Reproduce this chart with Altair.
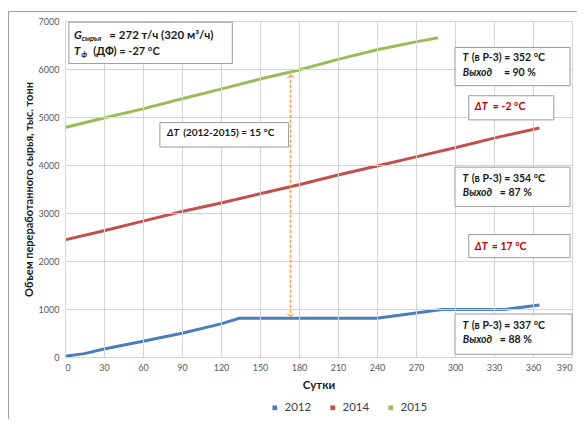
import altair as alt
import pandas as pd

# ---- data ----
days_2012 = [0, 15, 30, 60, 90, 120, 134, 240, 290, 338, 365]
vals_2012 = [15, 70, 165, 330, 495, 690, 805, 805, 990, 990, 1085]
days_2014 = [0, 30, 60, 90, 120, 150, 180, 210, 240, 270, 300, 330, 365]
vals_2014 = [2440, 2630, 2830, 3030, 3210, 3400, 3590, 3790, 3980, 4170, 4360, 4560, 4770]
days_2015 = [0, 30, 60, 90, 120, 150, 180, 210, 240, 270, 287]
vals_2015 = [4780, 4980, 5170, 5380, 5580, 5790, 5980, 6200, 6400, 6565, 6650]

series = ["2012", "2014", "2015"]
colors = ["#4a7ebb", "#c0504d", "#9bbb59"]

x_ticks = list(range(0, 391, 30))
y_ticks = list(range(0, 7001, 1000))

# annotation boxes (data coordinates)
box_x1 = [3, 73, 300, 310.6, 300, 310.6, 300]
box_x2 = [128.7, 172, 388.5, 376, 388.5, 388.5, 390]
box_y1 = [6975, 4883, 6449, 5443, 3955, 2551, 895]
box_y2 = [6113, 4374, 5653, 4940, 3138, 2069, 57]

# arrow between 2015 and 2012 curves
arrow_day = 173.5
arrow_top = 5880
arrow_bottom = 840

FONT = "Lato"
BLACK = "#1a1a1a"
RED = "#c00000"

# text pieces: (x, y, text, color, size)
bold_pieces = [
    (34.1, 6695, "= 272 т/ч (320 м³/ч)", BLACK, 11.5),
    (21.8, 6359, "(ДФ) = -27 °C", BLACK, 11),
    (90.9, 4661, "(2012-2015) = 15 °C", BLACK, 10),
    (312.9, 6219, "(в Р-3) = 352 °C", BLACK, 10.5),
    (337.6, 5925, "= 90 %", BLACK, 10.5),
    (329.1, 5213, "= -2 °C", RED, 10.5),
    (312.9, 3704, "(в Р-3) = 354 °C", BLACK, 10.5),
    (334.5, 3410, "= 87 %", BLACK, 10.5),
    (328.3, 2285, "= 17 °C", RED, 10.5),
    (312.9, 643, "(в Р-3) = 337 °C", BLACK, 10.5),
    (334.5, 350, "= 88 %", BLACK, 10.5),
]
italic_pieces = [
    (6.9, 6695, "G", BLACK, 11.5),
    (6.9, 6359, "T", BLACK, 11.5),
    (78.4, 4661, "ΔT", BLACK, 10),
    (305.8, 6219, "T", BLACK, 10.5),
    (306, 5925, "Выход", BLACK, 10.5),
    (315.2, 5213, "ΔT", RED, 10.5),
    (305.8, 3704, "T", BLACK, 10.5),
    (306, 3410, "Выход", BLACK, 10.5),
    (315.2, 2285, "ΔT", RED, 10.5),
    (305.8, 643, "T", BLACK, 10.5),
    (306, 350, "Выход", BLACK, 10.5),
]
sub_pieces = [
    (12.8, 6617, "сырья"),
    (12.6, 6282, "ф"),
]

# ---- tables ----
rows = []
for name, ds, vs in [("2012", days_2012, vals_2012), ("2014", days_2014, vals_2014), ("2015", days_2015, vals_2015)]:
    for d, v in zip(ds, vs):
        rows.append({"day": d, "val": v, "year": name})
df = pd.DataFrame(rows)

boxes = pd.DataFrame({"x1": box_x1, "x2": box_x2, "y1": box_y1, "y2": box_y2})
bold_df = pd.DataFrame(bold_pieces, columns=["x", "y", "t", "c", "s"])
ital_df = pd.DataFrame(italic_pieces, columns=["x", "y", "t", "c", "s"])
sub_df = pd.DataFrame(sub_pieces, columns=["x", "y", "t"])
arrow_df = pd.DataFrame({"x": [arrow_day], "y1": [arrow_top], "y2": [arrow_bottom]})
xgrid_df = pd.DataFrame({"gx": x_ticks})
ygrid_df = pd.DataFrame({"gy": y_ticks})

W, H = 507, 336
xscale = alt.Scale(domain=[0, 390], nice=False)
yscale = alt.Scale(domain=[0, 7000], nice=False)

x_axis = alt.Axis(values=x_ticks, title="Сутки", grid=False, domain=False, ticks=False,
                  labelOverlap=False, format="d",
                  labelPadding=6, titlePadding=7, titleFontSize=11.5, titleFontWeight="bold",
                  titleColor="#1a1a1a", titleFont=FONT, labelColor="#595959",
                  labelFontSize=9, labelFont=FONT)
y_axis = alt.Axis(values=y_ticks, title="Объем переработанного сырья, тыс. тонн", grid=False,
                  domain=False, ticks=False, labelOverlap=False, format="d",
                  labelPadding=6, titlePadding=4,
                  titleFontSize=11, titleFontWeight="bold", titleColor="#1a1a1a",
                  titleFont=FONT, labelColor="#595959", labelFontSize=9, labelFont=FONT)


def XN(f):
    return alt.X(f, type="quantitative", scale=xscale, axis=x_axis)


def YN(f):
    return alt.Y(f, type="quantitative", scale=yscale, axis=y_axis)


GRID = "#d4d4d4"
xgrid = alt.Chart(xgrid_df).mark_rule(color=GRID, strokeWidth=1, xOffset=0.5).encode(
    x=XN("gx"), y=alt.value(0), y2=alt.value(H))
ygrid = alt.Chart(ygrid_df).mark_rule(color=GRID, strokeWidth=1, yOffset=0.5).encode(
    y=YN("gy"), x=alt.value(0), x2=alt.value(W))

lines = alt.Chart(df).mark_line(strokeWidth=3).encode(
    x=XN("day"), y=YN("val"),
    color=alt.Color("year:N", scale=alt.Scale(domain=series, range=colors),
                    legend=alt.Legend(title=None, orient="none", direction="horizontal",
                                      legendX=204, legendY=381, symbolType="square", symbolSize=5,
                                      symbolStrokeWidth=2.5,
                                      labelFontSize=11.5, labelColor="#404040", labelFont=FONT,
                                      columnPadding=14)),
    detail="year:N",
)

arrow_line = alt.Chart(arrow_df).mark_rule(color="#f79646", strokeWidth=1.5, strokeDash=[3, 2]).encode(
    x=XN("x"), y=YN("y1"), y2="y2:Q")
arrow_up = alt.Chart(arrow_df).mark_point(shape="M-1,1L0,0L1,1", size=40, filled=False,
                                          color="#f79646", strokeWidth=1.5).encode(
    x=XN("x"), y=YN("y1"))
arrow_dn = alt.Chart(arrow_df).mark_point(shape="M-1,-1L0,0L1,-1", size=40, filled=False,
                                          color="#f79646", strokeWidth=1.5).encode(
    x=XN("x"), y=YN("y2"))

box_layer = alt.Chart(boxes).mark_rect(fill="white", stroke="#9a9a9a", strokeWidth=1).encode(
    x=XN("x1"), x2="x2:Q", y=YN("y1"), y2="y2:Q")

bold_layer = alt.Chart(bold_df).mark_text(align="left", baseline="middle", font=FONT,
                                          fontWeight="bold").encode(
    x=XN("x"), y=YN("y"), text="t:N", color=alt.Color("c:N", scale=None),
    size=alt.Size("s:Q", scale=None))
ital_layer = alt.Chart(ital_df).mark_text(align="left", baseline="middle", font=FONT,
                                          fontWeight="bold", fontStyle="italic").encode(
    x=XN("x"), y=YN("y"), text="t:N", color=alt.Color("c:N", scale=None),
    size=alt.Size("s:Q", scale=None))
sub_layer = alt.Chart(sub_df).mark_text(align="left", baseline="middle", font=FONT,
                                        fontWeight="bold", fontStyle="italic", fontSize=7.5,
                                        color=BLACK).encode(
    x=XN("x"), y=YN("y"), text="t:N")

frame = pd.DataFrame({"a": [0]})
left_border = alt.Chart(frame).mark_rule(color="#a0a0a0", strokeWidth=1).encode(
    x=alt.value(-56.5), y=alt.value(-9.5), y2=alt.value(420))
top_border = alt.Chart(frame).mark_rule(color="#a0a0a0", strokeWidth=1).encode(
    x=alt.value(-56.5), x2=alt.value(530), y=alt.value(-9.5))

chart = alt.layer(
    lines, xgrid, ygrid, arrow_line, arrow_up, arrow_dn, box_layer, bold_layer, ital_layer,
    sub_layer, left_border, top_border
).properties(
    width=W, height=H,
    autosize=alt.AutoSizeParams(type="none"),
    padding={"left": 57, "top": 13, "right": 5, "bottom": 62},
    background="white",
).configure_view(stroke=None)

chart.save("out.html", embed_options={"renderer": "svg", "actions": False})
